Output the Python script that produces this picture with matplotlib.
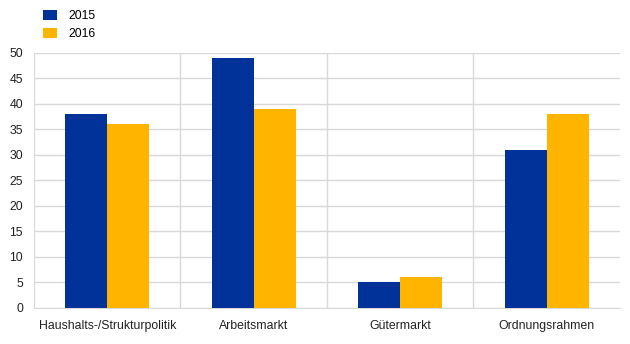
import matplotlib
matplotlib.use("Agg")
import matplotlib.pyplot as plt
import numpy as np

plt.rcParams['font.family'] = ['Liberation Sans', 'DejaVu Sans']

categories = ["Haushalts-/Strukturpolitik", "Arbeitsmarkt", "Gütermarkt", "Ordnungsrahmen"]
years = ["2015", "2016"]
values_2015 = [38, 49, 5, 31]
values_2016 = [36, 39, 6, 38]
colors = ["#003299", "#FFB400"]

fig = plt.figure(figsize=(6.3, 3.44), dpi=100)
ax = fig.add_axes([0.054, 0.105, 0.93, 0.741])

x = np.arange(len(categories))
w = 0.287
ax.bar(x - w / 2, values_2015, w, color=colors[0], label=years[0], zorder=3)
ax.bar(x + w / 2, values_2016, w, color=colors[1], label=years[1], zorder=3)

ax.set_xlim(-0.5, len(categories) - 0.5)
ax.set_ylim(0, 50)
ax.set_yticks(np.arange(0, 51, 5))
ax.set_xticks(x)
ax.set_xticklabels(categories)
ax.tick_params(axis='both', length=0, labelsize=8.8, colors='#222222')
ax.tick_params(axis='y', pad=8)
ax.tick_params(axis='x', pad=9)

ax.grid(axis='y', color='#d9d9d9', linewidth=1, zorder=0)
for b in np.arange(0.5, len(categories) - 0.5):
    ax.axvline(b, color='#d9d9d9', linewidth=1, zorder=0)

for s in ['top', 'right']:
    ax.spines[s].set_visible(False)
ax.spines['left'].set_color('#d9d9d9')
ax.spines['bottom'].set_color('#d9d9d9')

fig.legend(loc='upper left', bbox_to_anchor=(0.053, 1.0), frameon=False,
           fontsize=8.8, handlelength=1.15, handleheight=0.9, handletextpad=0.95,
           labelspacing=0.45, borderaxespad=0.4)

fig.savefig("out.png", dpi=100)
